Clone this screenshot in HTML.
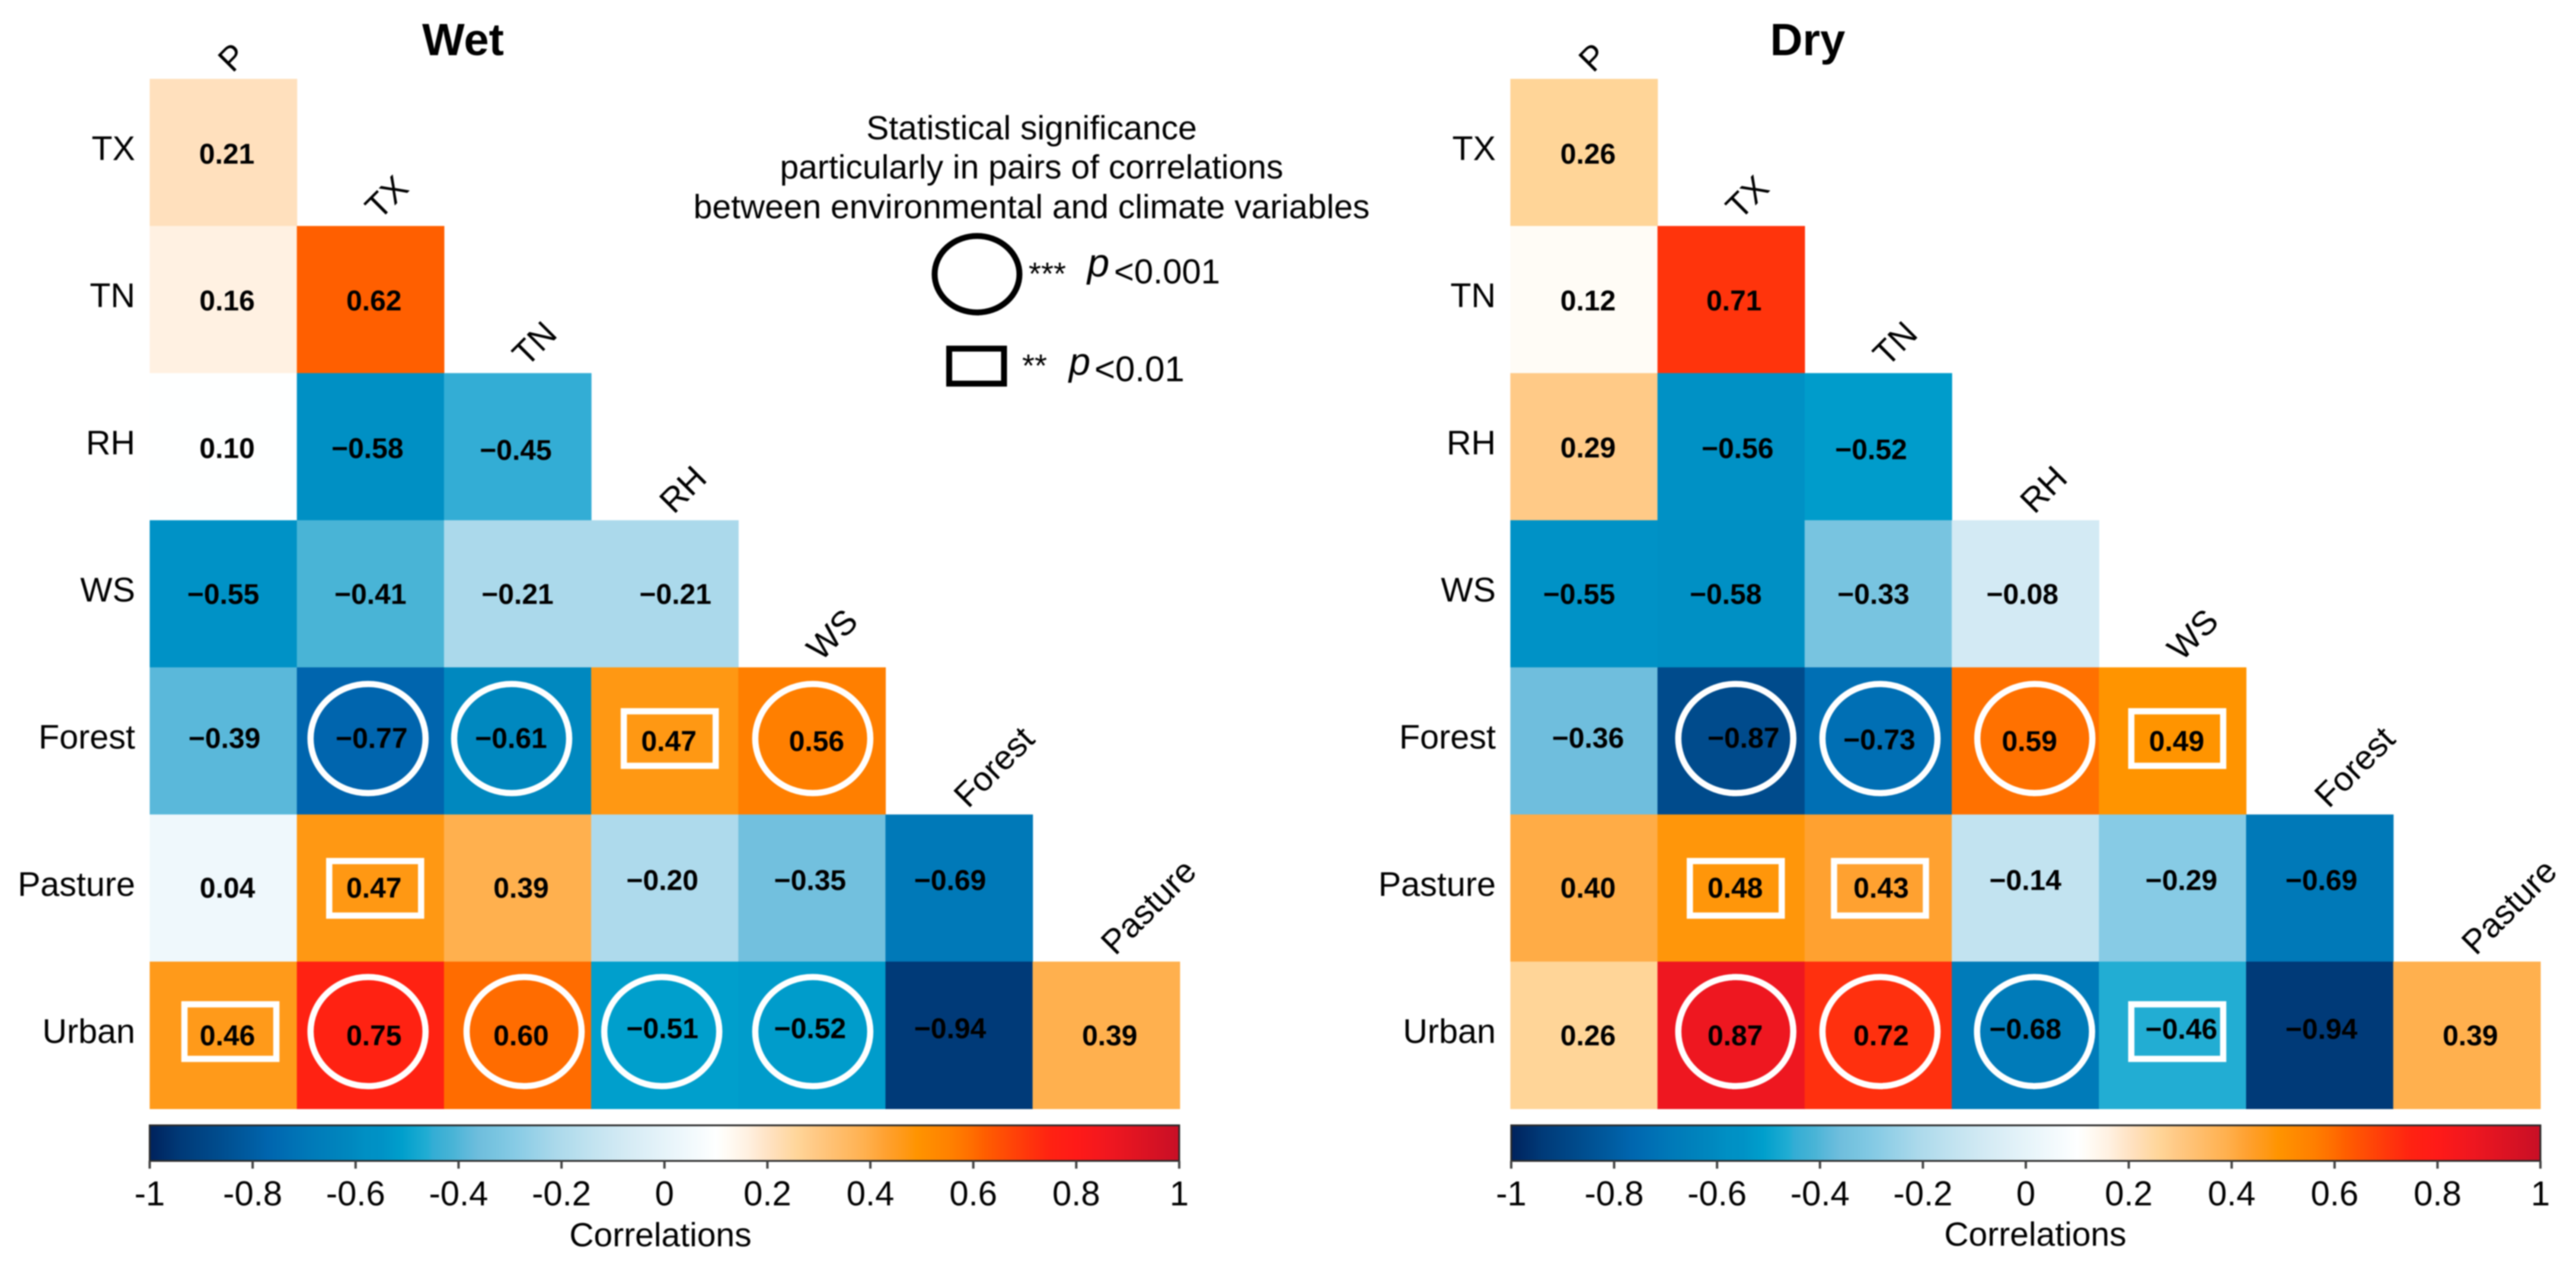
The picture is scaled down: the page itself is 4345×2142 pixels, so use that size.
<!DOCTYPE html>
<html lang="en">
<head>
<meta charset="utf-8">
<title>Wet and Dry correlation matrices</title>
<style>
html,body{margin:0;padding:0;background:#fff;}
svg{display:block;font-family:"Liberation Sans",Arial,sans-serif;filter:blur(1px);}
</style>
</head>
<body>
<svg id="chart" xmlns="http://www.w3.org/2000/svg" width="4345" height="2142" viewBox="0 0 4345 2142">
  <rect x="0" y="0" width="4345" height="2142" fill="#fff"/>
  <defs id="defs"></defs>
  <text x="781" y="93" font-size="76" font-weight="700" text-anchor="middle" fill="#000">Wet</text>
  <text x="3049" y="93" font-size="76" font-weight="700" text-anchor="middle" fill="#000">Dry</text>
  <g fill="#000">
    <text x="1740" y="235" font-size="57" text-anchor="middle">Statistical significance</text>
    <text x="1740" y="301" font-size="57" text-anchor="middle">particularly in pairs of correlations</text>
    <text x="1740" y="368" font-size="57" text-anchor="middle">between environmental and climate variables</text>
    <ellipse cx="1648" cy="462.5" rx="71.5" ry="64.5" fill="none" stroke="#000" stroke-width="10"/>
    <text x="1735" y="480" font-size="54">***</text>
    <text x="1834" y="466" font-size="67" font-style="italic">p</text>
    <text x="1879" y="478" font-size="58">&lt;0.001</text>
    <rect x="1601" y="588" width="92.5" height="59" fill="none" stroke="#000" stroke-width="10"/>
    <text x="1724" y="635" font-size="54">**</text>
    <text x="1803" y="632" font-size="65" font-style="italic">p</text>
    <text x="1846" y="643" font-size="60">&lt;0.01</text>
  </g>
  <g id="wet-panel"></g>
  <g id="dry-panel"></g>
</svg>
<script>
// ---- data ----
const rowVars = ['TX', 'TN', 'RH', 'WS', 'Forest', 'Pasture', 'Urban'];
const colVars = ['P', 'TX', 'TN', 'RH', 'WS', 'Forest', 'Pasture'];
const wetValues = [
  [0.21],
  [0.16, 0.62],
  [0.10, -0.58, -0.45],
  [-0.55, -0.41, -0.21, -0.21],
  [-0.39, -0.77, -0.61, 0.47, 0.56],
  [0.04, 0.47, 0.39, -0.20, -0.35, -0.69],
  [0.46, 0.75, 0.60, -0.51, -0.52, -0.94, 0.39]
];
const dryValues = [
  [0.26],
  [0.12, 0.71],
  [0.29, -0.56, -0.52],
  [-0.55, -0.58, -0.33, -0.08],
  [-0.36, -0.87, -0.73, 0.59, 0.49],
  [0.40, 0.48, 0.43, -0.14, -0.29, -0.69],
  [0.26, 0.87, 0.72, -0.68, -0.46, -0.94, 0.39]
];
const wetSignificance = [
  [''],
  ['', ''],
  ['', '', ''],
  ['', '', '', ''],
  ['', '***', '***', '**', '***'],
  ['', '**', '', '', '', ''],
  ['**', '***', '***', '***', '***', '', '']
];
const drySignificance = [
  [''],
  ['', ''],
  ['', '', ''],
  ['', '', '', ''],
  ['', '***', '***', '***', '**'],
  ['', '**', '**', '', '', ''],
  ['', '***', '***', '***', '**', '', '']
];
const colorbarTicks = [-1, -0.8, -0.6, -0.4, -0.2, 0, 0.2, 0.4, 0.6, 0.8, 1];
const colorbarTickLabels = ['-1', '-0.8', '-0.6', '-0.4', '-0.2', '0', '0.2', '0.4', '0.6', '0.8', '1'];
const colorValues = [-1,-0.94,-0.87,-0.8,-0.77,-0.73,-0.69,-0.61,-0.58,-0.55,-0.51,-0.46,-0.45,-0.41,-0.39,-0.36,-0.33,-0.29,-0.21,-0.14,-0.08,0.04,0.10,0.12,0.16,0.21,0.26,0.29,0.39,0.43,0.47,0.49,0.56,0.6,0.62,0.71,0.75,0.8,0.87,1];
const colorHexes = ['#00225c','#003a78','#004b8c','#005da2','#0065ae','#006fb4','#0079b8','#0088bf','#0090c4','#0092c6','#009fcc','#22add3','#33add5','#49b4d6','#5ab8da','#6fbedd','#78c4e0','#87cbe5','#abd9eb','#c2e3f0','#d3eaf4','#eff8fc','#feffff','#fffcf6','#fff1e2','#ffe0bd','#ffd598','#ffca87','#ffb04e','#ffa130','#ff9813','#ff9400','#ff7f00','#ff6c00','#ff5f00','#ff340c','#ff2212','#ff1a18','#ee1720','#c80f26'];

// ---- layout (hand placement of text and markers relative to their cell) ----
const NS = 'http://www.w3.org/2000/svg';
const CELL = 248.2;
const ROW_STEP = 248.14;
const TOP = 133;
const wetLayout = {
  key: 'wet', x0: 252.5, barLeft: 252.5, barRight: 1989, axisTitleX: 1114, axisTitleY: 2102,
  textDx: [[6],[6.5,6],[6.5,-5,-3],[0,0,0,18],[2,2,-11,7,8],[7,6,6,-4,-3,-15],[7,6,6,-4,-3,-15,6]],
  textDy: [[2],[1.5,1.5],[2,2,5],[0,0,0,0],[-5,-5,-5,0,0],[-1,-1,-1,-14,-14,-14],[0,0,0,-12,-12,-12,0]],
  markDx: {'4,1':-4,'4,2':-10,'4,3':8.5,'4,4':1.5,'5,1':8,'6,0':12,'6,1':-4,'6,2':11,'6,3':-5,'6,4':1.5}
};
const dryLayout = {
  key: 'dry', x0: 2547.5, barLeft: 2549, barRight: 4285, axisTitleX: 3433, axisTitleY: 2101,
  textDx: [[7],[7,5],[7,11,-12],[-8,-9,-8,-5],[7,21,2,7,7],[7,7,5,0,15,3],[7,7,5,0,15,3,6]],
  textDy: [[2],[1.5,1.5],[1,2,4],[0,0,0,0],[-5.7,-5.7,-2.7,0,0],[-1,-1,-1,-14,-14,-14],[0,0,0,-11,-11,-11,0]],
  markDx: {'4,1':8,'4,2':3,'4,3':16,'4,4':8,'5,1':8,'5,2':3,'6,1':8,'6,2':3,'6,3':15.5,'6,4':8}
};
const markDy = [0, 0, 0, 0, -4, 0.5, -6];

// ---- scales ----
function hexToRgb(h) {
  return [parseInt(h.slice(1, 3), 16), parseInt(h.slice(3, 5), 16), parseInt(h.slice(5, 7), 16)];
}
function colorScale(v) {
  const n = colorValues.length;
  if (v <= colorValues[0]) return colorHexes[0];
  if (v >= colorValues[n - 1]) return colorHexes[n - 1];
  for (let i = 1; i < n; i++) {
    if (v <= colorValues[i]) {
      const t = (v - colorValues[i - 1]) / (colorValues[i] - colorValues[i - 1]);
      const a = hexToRgb(colorHexes[i - 1]);
      const b = hexToRgb(colorHexes[i]);
      return 'rgb(' + [0, 1, 2].map(k => Math.round(a[k] + (b[k] - a[k]) * t)).join(',') + ')';
    }
  }
  return colorHexes[n - 1];
}
function rowTop(r) { return TOP + ROW_STEP * r; }
function rowCenter(r) { return rowTop(r) + ROW_STEP / 2; }
function colLeft(layout, c) { return layout.x0 + CELL * c; }
function colCenter(layout, c) { return colLeft(layout, c) + CELL / 2; }
function barX(layout, v) { return layout.barLeft + (v + 1) / 2 * (layout.barRight - layout.barLeft); }
function formatValue(v) { return (v < 0 ? '\u2212' : '') + Math.abs(v).toFixed(2); }
function make(tag, attrs, parent, text) {
  const el = document.createElementNS(NS, tag);
  for (const k in attrs) el.setAttribute(k, attrs[k]);
  if (text !== undefined) el.textContent = text;
  parent.appendChild(el);
  return el;
}

// ---- colorbar gradient ----
const gradient = make('linearGradient', { id: 'colorbar-gradient', x1: 0, x2: 1, y1: 0, y2: 0 }, document.getElementById('defs'));
colorValues.forEach((v, i) => {
  make('stop', { offset: (v + 1) / 2, 'stop-color': colorHexes[i] }, gradient);
});

// ---- panels ----
function drawPanel(layout, values, significance) {
  const g = document.getElementById(layout.key + '-panel');

  values.forEach((row, r) => {
    row.forEach((v, c) => {
      const cell = make('rect', { x: colLeft(layout, c), y: rowTop(r), width: CELL + 0.6, height: ROW_STEP + 0.6, fill: colorScale(v) }, g);
      
      
    });
  });

  values.forEach((row, r) => {
    row.forEach((v, c) => {
      const sig = significance[r][c];
      if (!sig) return;
      const mx = colCenter(layout, c) + (layout.markDx[r + ',' + c] || 0);
      const my = rowCenter(r) + markDy[r];
      if (sig === '***') {
        const ring = make('ellipse', { cx: mx, cy: my, rx: 97, ry: 92, fill: 'none', stroke: '#fff', 'stroke-width': 10.5 }, g);
        
        
      } else {
        const box = make('rect', { x: mx - 77.5, y: my - 46, width: 155, height: 92, fill: 'none', stroke: '#fff', 'stroke-width': 10.5 }, g);
        
        
      }
    });
  });

  values.forEach((row, r) => {
    row.forEach((v, c) => {
      const tx = colCenter(layout, c) + layout.textDx[r][c];
      const ty = rowCenter(r) + layout.textDy[r][c] + 17;
      const label = make('text', { x: tx, y: ty, 'font-size': 48, 'font-weight': 700, 'text-anchor': 'middle', fill: '#000' }, g, formatValue(v));
      
      
    });
  });

  rowVars.forEach((name, r) => {
    const label = make('text', { x: layout.x0 - 24.5, y: rowCenter(r) + 13, 'font-size': 57.5, 'text-anchor': 'end', fill: '#000' }, g, name);
    
    
  });

  colVars.forEach((name, c) => {
    const lx = colCenter(layout, c) + 1;
    const ly = rowTop(c) - 23;
    const label = make('text', { x: 0, y: 0, dy: '0.35em', transform: 'translate(' + lx + ' ' + ly + ') rotate(-45)', 'font-size': 57.5, fill: '#000' }, g, name);
    
    
  });

  const bar = make('rect', { x: layout.barLeft, y: 1898, width: layout.barRight - layout.barLeft, height: 60, fill: 'url(#colorbar-gradient)', stroke: '#2a2a2a', 'stroke-width': 3 }, g);
  
  

  colorbarTicks.forEach((t, i) => {
    const x = barX(layout, t);
    const tick = make('line', { x1: x, x2: x, y1: 1958, y2: 1971, stroke: '#444', 'stroke-width': 4 }, g);
    
    
    const lab = make('text', { x: x, y: 2033, 'font-size': 58, 'text-anchor': 'middle', fill: '#000' }, g, colorbarTickLabels[i]);
    
    
  });

  const axisTitle = make('text', { x: layout.axisTitleX, y: layout.axisTitleY, 'font-size': 57, 'text-anchor': 'middle', fill: '#000' }, g, 'Correlations');
  
  
}

drawPanel(wetLayout, wetValues, wetSignificance);
drawPanel(dryLayout, dryValues, drySignificance);
</script>
</body>
</html>
